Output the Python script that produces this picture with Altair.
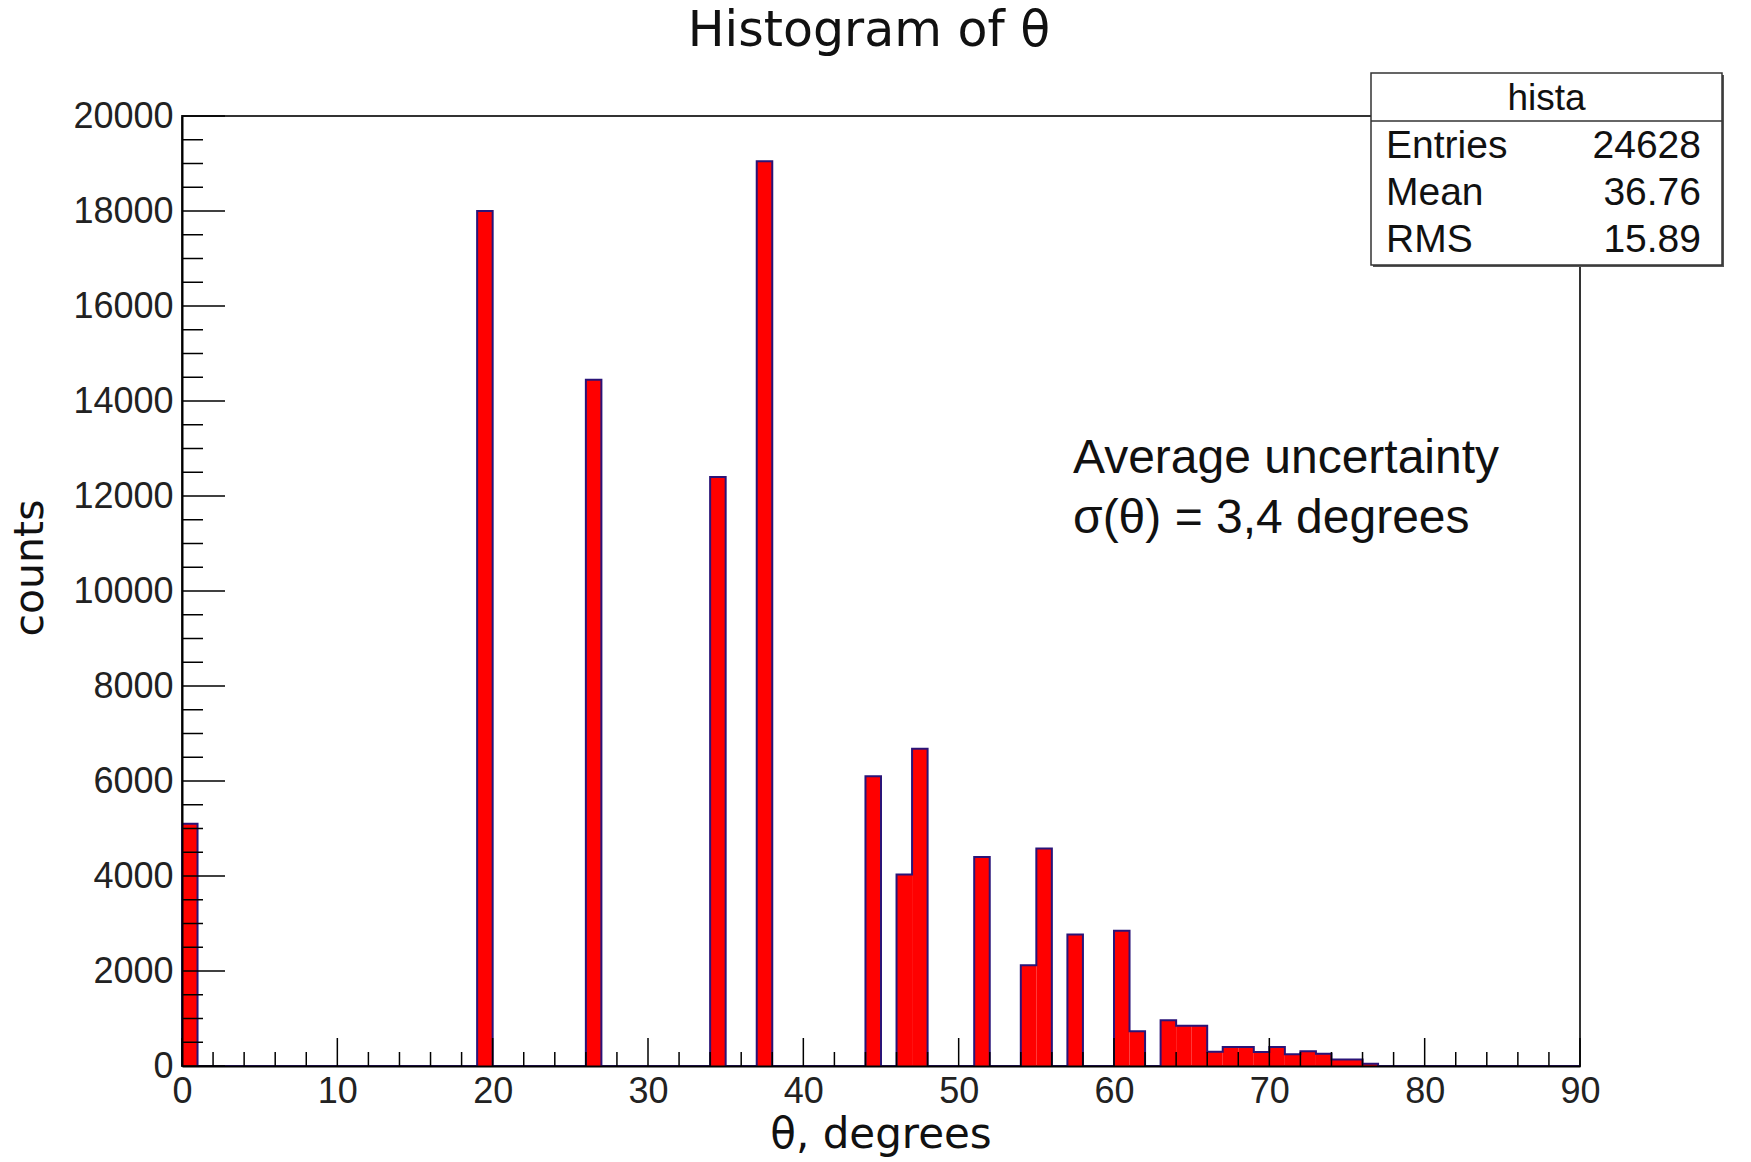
import altair as alt
import pandas as pd

# ---- data ----
bin_left = [0, 19, 26, 34, 37, 44, 46, 47, 51, 54, 55, 57, 60, 61, 63, 64, 65,
            66, 67, 68, 69, 70, 71, 72, 73, 74, 75, 76]
bin_counts = [5100, 18000, 14450, 12400, 19050, 6100, 4030, 6680, 4400, 2120, 4580,
              2770, 2850, 730, 965, 845, 845, 300, 400, 400, 295, 400, 250, 310,
              260, 135, 135, 50]
n_bins = 90
bin_width = 1

x_major = list(range(0, 91, 10))
x_minor = [v for v in range(0, 91, 2) if v % 10 != 0]
y_major = list(range(0, 20001, 2000))
y_minor = [v for v in range(0, 20001, 500) if v % 2000 != 0]

title_text = "Histogram of \u03b8"
x_title = "\u03b8, degrees"
y_title = "counts"
note_lines = ["Average uncertainty", "\u03c3(\u03b8) = 3,4 degrees"]
stats_name = "hista"
stats_labels = ["Entries", "Mean", "RMS"]
stats_values = ["24628", "36.76", "15.89"]

# ---- tables ----
bars = pd.DataFrame({"theta": bin_left,
                     "theta2": [b + bin_width for b in bin_left],
                     "count": bin_counts})

full = [0] * n_bins
for b, c in zip(bin_left, bin_counts):
    full[b] = c
step_x = [0] + list(range(n_bins)) + [n_bins]
step_y = [0] + full + [0]
outline = pd.DataFrame({"theta": step_x, "count": step_y, "order": range(len(step_x))})

W, H = 1398, 950
FONT = "Liberation Sans"
WIDE = "DejaVu Sans"

xs = alt.Scale(domain=[0, 90], nice=False, zero=False)
ys = alt.Scale(domain=[0, 20000], nice=False)

x_axis = alt.Axis(values=x_major, ticks=False, tickSize=0, grid=False, title=None,
                  labelFontSize=36, labelFont=FONT, labelColor="#222222",
                  labelPadding=8, domainColor="black", domainWidth=2, zindex=1,
                  labelFlush=False, labelOverlap=False, format="d")
y_axis = alt.Axis(values=y_major, ticks=False, tickSize=0, grid=False, title=None,
                  labelFontSize=36, labelFont=FONT, labelColor="#222222",
                  labelPadding=9, domainColor="black", domainWidth=2, zindex=1,
                  labelFlush=False, labelOverlap=False, format="d")

X = alt.X("theta:Q", scale=xs, axis=x_axis)
Y = alt.Y("count:Q", scale=ys, axis=y_axis)

bar_layer = alt.Chart(bars).mark_bar(color="#ff0000", stroke=None).encode(
    x=X, x2="theta2:Q", y=Y, y2=alt.datum(0))

line_layer = alt.Chart(outline).mark_line(
    interpolate="step-after", color="#2a1478", strokeWidth=2).encode(
    x=X, y=Y, order="order:Q")

def xticks(vals, length):
    return alt.Chart(pd.DataFrame({"theta": vals})).mark_rule(
        color="black", strokeWidth=1.5).encode(
        x=X, y=alt.value(H), y2=alt.value(H - length))

def yticks(vals, length):
    return alt.Chart(pd.DataFrame({"count": vals})).mark_rule(
        color="black", strokeWidth=1.5).encode(
        y=Y, x=alt.value(0), x2=alt.value(length))

one = pd.DataFrame({"k": [0]})

def txt(text, x, y, size, align="left", baseline="alphabetic", angle=0,
        color="#111111", font=FONT):
    return alt.Chart(one).mark_text(
        text=text, fontSize=size, font=font, align=align, baseline=baseline,
        angle=angle, color=color).encode(x=alt.value(x), y=alt.value(y))

# stats box geometry (pixels relative to plot origin)
bx0, bx1, by0, by1 = 1189, 1540, -43, 149
shadow = alt.Chart(one).mark_rect(fill="#555555").encode(
    x=alt.value(bx0 + 2), x2=alt.value(bx1 + 2), y=alt.value(by0 + 2), y2=alt.value(by1 + 2))
box = alt.Chart(one).mark_rect(fill="white", stroke="#333333", strokeWidth=1.5).encode(
    x=alt.value(bx0), x2=alt.value(bx1), y=alt.value(by0), y2=alt.value(by1))
sep = alt.Chart(one).mark_rule(color="#333333", strokeWidth=1.5).encode(
    x=alt.value(bx0), x2=alt.value(bx1), y=alt.value(5))

layers = [bar_layer, line_layer,
          xticks(x_minor, 14), xticks(x_major, 28),
          yticks(y_minor, 21), yticks(y_major, 43),
          shadow, box, sep,
          txt(stats_name, (bx0 + bx1) / 2, -6, 37, align="center")]
row_base = [42, 89, 136]
for lab, val, yb in zip(stats_labels, stats_values, row_base):
    layers.append(txt(lab, 1204, yb, 39))
    layers.append(txt(val, 1519, yb, 39, align="right"))

layers += [
    txt(title_text, 687, -70, 49, align="center", font=WIDE),
    txt(note_lines[0], 891, 357, 48),
    txt(note_lines[1], 891, 417, 48),
    txt(x_title, W / 2, 1148 - 116, 42, align="center", font=WIDE),
    txt(y_title, -139, 452, 41, align="center", angle=270, font=WIDE),
]

chart = alt.layer(*layers).properties(
    width=W, height=H,
    autosize=alt.AutoSizeParams(type="none"),
    padding={"left": 174, "top": 108, "right": 163, "bottom": 96},
    background="white",
).configure_view(stroke="#333333", strokeWidth=2)

chart.save("out.html", embed_options={"renderer": "svg", "actions": False})
